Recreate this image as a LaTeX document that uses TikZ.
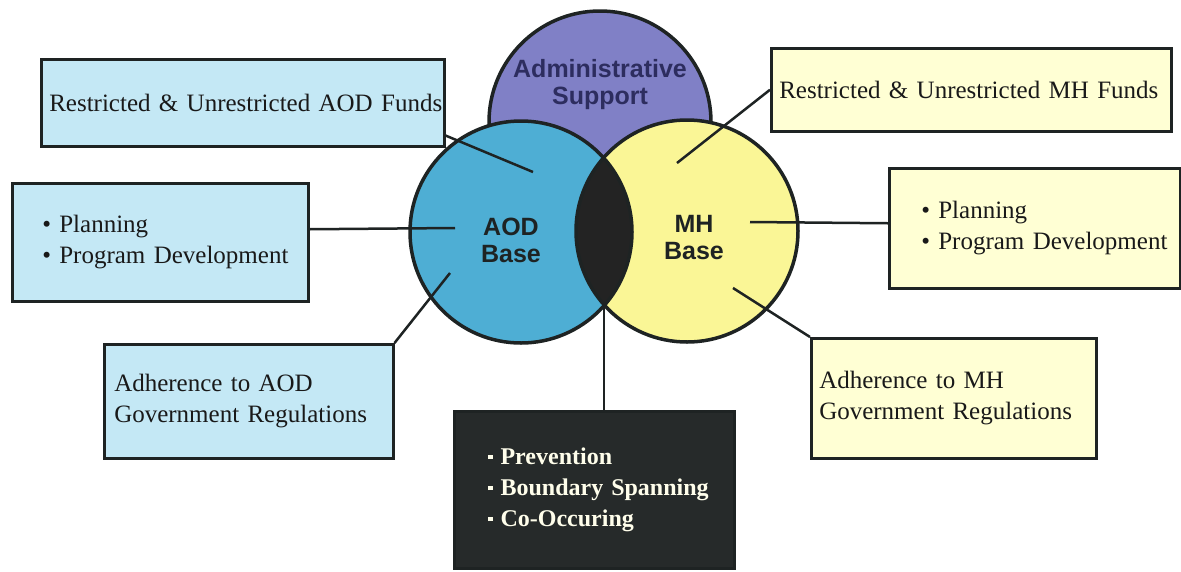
\documentclass[tikz,border=0pt]{standalone}
\usepackage{fontspec}
\setmainfont{Liberation Serif}
\newfontfamily\arialfont{Liberation Sans}
\usetikzlibrary{positioning,calc}

\definecolor{aodblue}{RGB}{78,174,212}
\definecolor{mhyellow}{RGB}{250,246,150}
\definecolor{adminpurple}{RGB}{128,128,198}
\definecolor{admintext}{RGB}{45,45,95}
\definecolor{lensdark}{RGB}{35,35,35}
\definecolor{aodboxfill}{RGB}{196,232,245}
\definecolor{mhboxfill}{RGB}{255,255,212}
\definecolor{darkboxfill}{RGB}{38,42,42}
\definecolor{edgecol}{RGB}{30,35,35}

\hyphenpenalty=10000
\exhyphenpenalty=10000
\newcommand{\sqbul}{\raisebox{0.22em}{\rule{0.18em}{0.18em}}}

\tikzset{
  circ/.style={circle,minimum size=222pt,inner sep=0pt},
  circtext/.style={font=\arialfont\bfseries\fontsize{25}{27}\selectfont,align=center},
  ring/.style={draw=edgecol,line width=3.5pt},
  infobox/.style={draw=edgecol,line width=2.5pt,anchor=north west,align=left,inner ysep=0pt,
    text=black!90,font=\fontsize{25}{31}\selectfont},
  link/.style={edgecol,line width=2.5pt}
}

\begin{document}
\begin{tikzpicture}[x=1pt,y=-1pt]
\useasboundingbox (0,0) rectangle (1181,571);

% the three bases
\node[circ,ring,fill=adminpurple,label={[circtext,text=admintext,yshift=37pt]center:Administrative\\Support}] (admin) at (600,122) {};
\node[circ,fill=aodblue,label={[circtext,text=edgecol,xshift=-10pt,yshift=-8pt]center:AOD\\Base}] (aod) at (521,232) {};
\node[circ,fill=mhyellow,label={[circtext,text=edgecol,xshift=7pt,yshift=-7pt]center:MH\\Base}] (mh) at (687,231) {};
\begin{scope}
\clip (aod.center) circle[radius=111pt];
\fill[lensdark] (mh.center) circle[radius=111pt];
\end{scope}
\draw[ring] (aod.center) circle[radius=111pt];
\draw[ring] (mh.center) circle[radius=111pt];
\coordinate (lensbot) at (604,305);

% AOD side
\node[infobox,fill=aodboxfill,minimum width=403pt,minimum height=87pt,inner xsep=8pt,text width=387pt] (aodfunds) at (40,58) {Restricted~\&~Unrestricted~AOD~Funds};
\node[infobox,fill=aodboxfill,minimum width=296pt,minimum height=118pt,inner xsep=30pt,text width=236pt] (aodplan) at (11,182) {\textbullet~Planning\\\textbullet~Program~Development};
\node[infobox,fill=aodboxfill,minimum width=289pt,minimum height=114pt,inner xsep=10pt,text width=269pt] (aodrules) at (103,343) {Adherence to AOD\\Government~Regulations};

% MH side
\node[infobox,fill=mhboxfill,minimum width=400pt,minimum height=83pt,inner xsep=8pt,text width=384pt] (mhfunds) at (770,47) {Restricted~\&~Unrestricted~MH~Funds};
\node[infobox,fill=mhboxfill,minimum width=291pt,minimum height=120pt,inner xsep=32pt,text width=227pt] (mhplan) at (888,167) {\textbullet~Planning\\\textbullet~Program~Development};
\node[infobox,fill=mhboxfill,minimum width=285pt,minimum height=120pt,inner xsep=8pt,text width=269pt] (mhrules) at (810,337) {Adherence to MH\\Government~Regulations};

% shared
\node[infobox,fill=darkboxfill,text=white!92!yellow,minimum width=280pt,minimum height=157pt,inner xsep=34pt,text width=212pt,
  font=\bfseries\fontsize{24}{31}\selectfont] (shared) at (453,410) {\sqbul~Prevention\\\sqbul~Boundary~Spanning\\\sqbul~Co-Occuring};

% connectors
\coordinate (aodfundsend) at (533,172);
\coordinate (aodplanend) at (455,228);
\coordinate (aodrulesend) at (450,273);
\coordinate (mhfundsend) at (677,163);
\coordinate (mhplanend) at (750,222);
\coordinate (mhrulesend) at (733,288);
\draw[link] ([yshift=12pt]aodfunds.south east) -- (aodfundsend);
\draw[link] ([yshift=13pt]aodplan.east) -- (aodplanend);
\draw[link] (aodrules.north east) -- (aodrulesend);
\draw[link] (mhfunds.west) -- (mhfundsend);
\draw[link] ([yshift=5pt]mhplan.west) -- (mhplanend);
\draw[link] (mhrules.north west) -- (mhrulesend);
\draw[link] (lensbot) -- (lensbot |- shared.north);
\end{tikzpicture}
\end{document}
